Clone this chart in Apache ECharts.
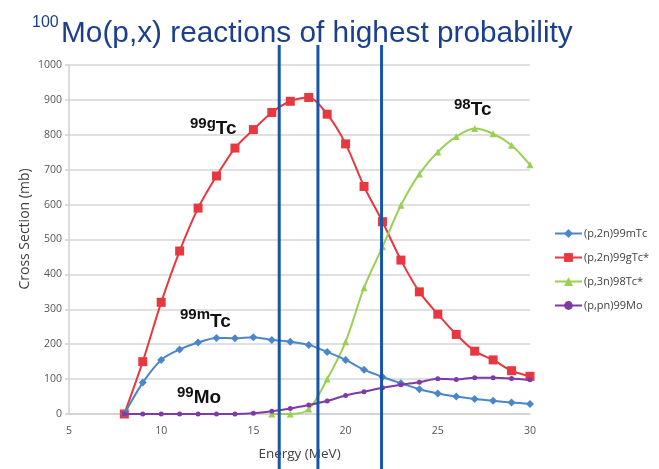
<!DOCTYPE html>
<html>
<head>
<meta charset="utf-8">
<script src="https://cdn.jsdelivr.net/npm/echarts@6/dist/echarts.min.js"></script>
<style>
html,body{margin:0;padding:0;background:#fff;}
#main{width:659px;height:469px;}
</style>
</head>
<body>
<div id="main"></div>
<script>
const energies = [8,9,10,11,12,13,14,15,16,17,18,19,20,21,22,23,24,25,26,27,28,29,30];
const tc99m = [0,90,155,185,205,218,217,220,212,207,198,178,155,127,106,88,71,59,50,43,38,33,29];
const tc99g = [0,150,320,467,590,682,762,815,864,896,907,859,774,652,551,441,350,286,228,180,155,124,108];
const tc98  = [null,null,null,null,null,null,null,null,0,0,14,100,207,362,479,598,688,751,795,818,803,770,714];
const mo99  = [0,0,0,0,0,0,0,2,8,16,26,37,53,64,75,84,91,101,99,104,104,102,98];
const seriesNames = ['(p,2n)99mTc','(p,2n)99gTc*','(p,3n)98Tc*','(p,pn)99Mo'];
const xTicks = [5,10,15,20,25,30];
const yTicks = [0,100,200,300,400,500,600,700,800,900,1000];
const markerEnergies = [16.4, 18.5, 21.95];

function pairs(vals){ return energies.map((e,i)=>[e, vals[i]]); }

const chart = echarts.init(document.getElementById('main'), null, {renderer:'canvas'});
const font = 'Open Sans, Liberation Sans, sans-serif';
const colors = ['#4a86c8','#e8383f','#9ccf55','#7e3aa6'];

const option = {
  animation:false,
  backgroundColor:'#fff',
  grid:{left:69, top:65, width:461, height:349},
  xAxis:{
    type:'value', min:xTicks[0], max:xTicks[xTicks.length-1], interval:5,
    name:'Energy (MeV)', nameLocation:'middle', nameGap:33,
    nameTextStyle:{fontFamily:font, fontSize:13.5, color:'#404040'},
    axisLine:{show:true, lineStyle:{color:'#d0d0d0', width:1.5}},
    axisTick:{show:false},
    splitLine:{show:false},
    axisLabel:{fontFamily:font, fontSize:10.5, color:'#555', margin:12}
  },
  yAxis:{
    type:'value', min:yTicks[0], max:yTicks[yTicks.length-1], interval:100,
    axisLine:{show:true, lineStyle:{color:'#d0d0d0', width:1.5}},
    axisTick:{show:true, length:4, lineStyle:{color:'#d0d0d0', width:1.5}},
    splitLine:{show:true, lineStyle:{color:'#d6d6d6', width:1.5}},
    axisLabel:{fontFamily:font, fontSize:10.5, color:'#555', margin:7, formatter:v=>String(v)}
  },
  legend:{
    orient:'vertical', left:549, top:223, itemWidth:27, itemHeight:11, itemGap:13,
    textStyle:{fontFamily:font, fontSize:11, color:'#404040', padding:[0,0,0,-3]},
    data:seriesNames
  },
  series:[
    {name:seriesNames[0], type:'line', data:pairs(tc99m), smooth:0.3, symbol:'diamond', symbolSize:8,
     itemStyle:{color:colors[0]}, lineStyle:{color:colors[0], width:2}, z:3},
    {name:seriesNames[1], type:'line', data:pairs(tc99g), smooth:0.3, symbol:'rect', symbolSize:9,
     itemStyle:{color:colors[1]}, lineStyle:{color:colors[1], width:2}, z:2},
    {name:seriesNames[2], type:'line', data:pairs(tc98), smooth:0.3, symbol:'triangle', symbolSize:7,
     itemStyle:{color:colors[2]}, lineStyle:{color:colors[2], width:2}, z:2},
    {name:seriesNames[3], type:'line', data:pairs(mo99), smooth:0.3, symbol:'circle', symbolSize:5,
     itemStyle:{color:colors[3]}, lineStyle:{color:colors[3], width:2}, z:4}
  ]
};
chart.setOption(option);

const lblFont = 'Liberation Sans, Arial, sans-serif';
const ctx = document.createElement('canvas').getContext('2d');
function textW(t, size, weight){ ctx.font = (weight||'normal') + ' ' + size + 'px ' + lblFont; return ctx.measureText(t).width; }

function label(sup, main, x, y, dy){
  const w = textW(sup, 15, 'bold');
  return [
    {type:'text', left:x, top:y, z:10, style:{text:sup, fontFamily:lblFont, fontWeight:'bold', fontSize:15, fill:'#111'}},
    {type:'text', left:x + w, top:y + dy, z:10, style:{text:main, fontFamily:lblFont, fontWeight:'bold', fontSize:19, fill:'#111'}}
  ];
}

const gfx = [];
gfx.push({type:'text', left:32, top:15, z:10, style:{text:'100', fontFamily:lblFont, fontSize:16, fill:'#1c3f8c'}});
gfx.push({type:'text', left:61, top:19, z:10, style:{text:'Mo(p,x) reactions of highest probability', fontFamily:lblFont, fontSize:29.8, fill:'#1c3f8c'}});
gfx.push({type:'text', x:25, y:229, rotation:Math.PI/2, z:10, style:{text:'Cross Section (mb)', fontFamily:font, fontSize:14, fill:'#404040', align:'center', verticalAlign:'middle'}});
gfx.push(...label('99g','Tc',190,116,3));
gfx.push(...label('98','Tc',454,97,3));
gfx.push(...label('99m','Tc',180,307,5));
gfx.push(...label('99','Mo',177,385,3));
markerEnergies.forEach(e=>{
  const px = chart.convertToPixel({xAxisIndex:0}, e);
  gfx.push({type:'line', z:20, shape:{x1:px, y1:45, x2:px, y2:469}, style:{stroke:'#1655a8', lineWidth:3}});
});
chart.setOption({graphic:gfx});
</script>
</body>
</html>
